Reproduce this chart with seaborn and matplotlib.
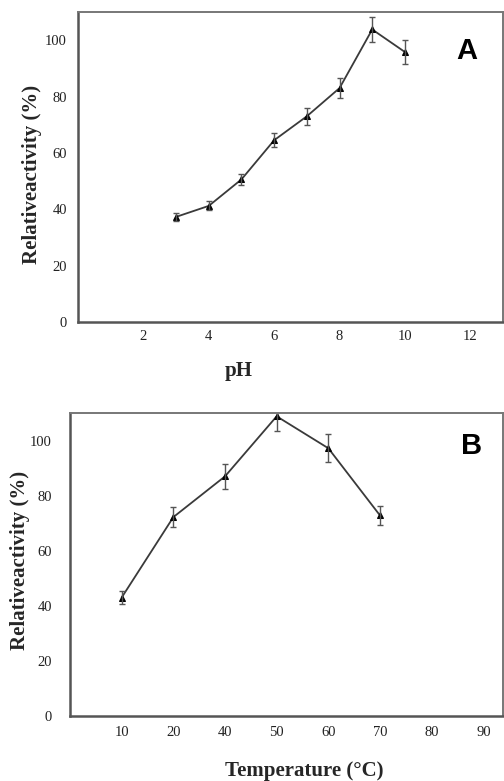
import numpy as np
import pandas as pd
import matplotlib
matplotlib.use("Agg")
import matplotlib.pyplot as plt
import seaborn as sns

# ---- data ----
ph = [3, 4, 5, 6, 7, 8, 9, 10]
ph_activity = [37.3, 41.2, 50.6, 64.5, 73.0, 83.0, 103.8, 95.8]
ph_err = [1.5, 1.6, 2.0, 2.5, 3.0, 3.6, 4.5, 4.2]
ph_ticks = [2, 4, 6, 8, 10, 12]

temp = [10, 20, 40, 50, 60, 70]
temp_activity = [43.0, 72.2, 87.0, 108.8, 97.2, 72.8]
temp_err = [2.2, 3.7, 4.6, 5.5, 5.0, 3.5]
temp_tick_labels = ["10", "20", "40", "50", "60", "70", "80", "90"]

y_ticks = [0, 20, 40, 60, 80, 100]

sns.set_theme(style="white")
plt.rcParams['font.family'] = ['Liberation Serif', 'DejaVu Serif']

fig = plt.figure(figsize=(5.04, 7.81), dpi=100)
W, H = 504, 781
axA = fig.add_axes([78 / W, 1 - 322 / H, 425 / W, 310 / H])
axB = fig.add_axes([70 / W, 1 - 716 / H, 433 / W, 303 / H])

line_col = "#3a3a3a"
err_col = "#555555"

def style(ax):
    for s in ["left", "bottom"]:
        ax.spines[s].set_color("#555555")
        ax.spines[s].set_linewidth(1.8)
    for s in ["top", "right"]:
        ax.spines[s].set_color("#777777")
        ax.spines[s].set_linewidth(1.4)
    ax.tick_params(direction="in", length=3, width=0.8, color="#888888",
                   labelsize=10.5, labelcolor="#222222")
    ax.set_ylim(0, 110)
    ax.set_yticks(y_ticks)

# ---- panel A ----
dfA = pd.DataFrame({"pH": ph, "act": ph_activity})
sns.lineplot(data=dfA, x="pH", y="act", ax=axA, color=line_col, linewidth=1.3,
             marker="^", markersize=4, markeredgecolor="black", markerfacecolor="black")
axA.errorbar(ph, ph_activity, yerr=ph_err, fmt="none", ecolor=err_col,
             elinewidth=1.0, capsize=2.5, capthick=1.0)
style(axA)
axA.set_xlim(0, 13)
axA.set_xticks(ph_ticks)
axA.tick_params(axis="y", pad=8)
axA.tick_params(axis="x", pad=6)
axA.set_xlabel("pH", fontsize=15, fontweight="bold")
axA.set_ylabel("Relativeactivity (%)", fontsize=15, fontweight="bold")
axA.xaxis.set_label_coords(0.379, -0.126)
axA.yaxis.set_label_coords(-0.085, 0.476)
axA.text(0.915, 0.874, "A", transform=axA.transAxes, fontsize=21, fontweight="bold",
         family=["Liberation Sans", "DejaVu Sans"], ha="center", va="center", color="black")

# ---- panel B ----
pos = [temp_tick_labels.index(str(t)) + 1 for t in temp]
dfB = pd.DataFrame({"pos": pos, "act": temp_activity})
sns.lineplot(data=dfB, x="pos", y="act", ax=axB, color=line_col, linewidth=1.3,
             marker="^", markersize=4, markeredgecolor="black", markerfacecolor="black")
axB.errorbar(pos, temp_activity, yerr=temp_err, fmt="none", ecolor=err_col,
             elinewidth=1.0, capsize=2.5, capthick=1.0)
style(axB)
axB.set_xlim(0, 8.38)
axB.set_xticks(np.arange(1, len(temp_tick_labels) + 1))
axB.set_xticklabels(temp_tick_labels)
axB.tick_params(axis="y", pad=13)
axB.tick_params(axis="x", pad=7)
axB.set_xlabel("Temperature (°C)", fontsize=15, fontweight="bold")
axB.set_ylabel("Relativeactivity (%)", fontsize=15, fontweight="bold")
axB.xaxis.set_label_coords(0.54, -0.149)
axB.yaxis.set_label_coords(-0.092, 0.515)
axB.text(0.928, 0.892, "B", transform=axB.transAxes, fontsize=21, fontweight="bold",
         family=["Liberation Sans", "DejaVu Sans"], ha="center", va="center", color="black")

fig.savefig("out.png", dpi=100)
